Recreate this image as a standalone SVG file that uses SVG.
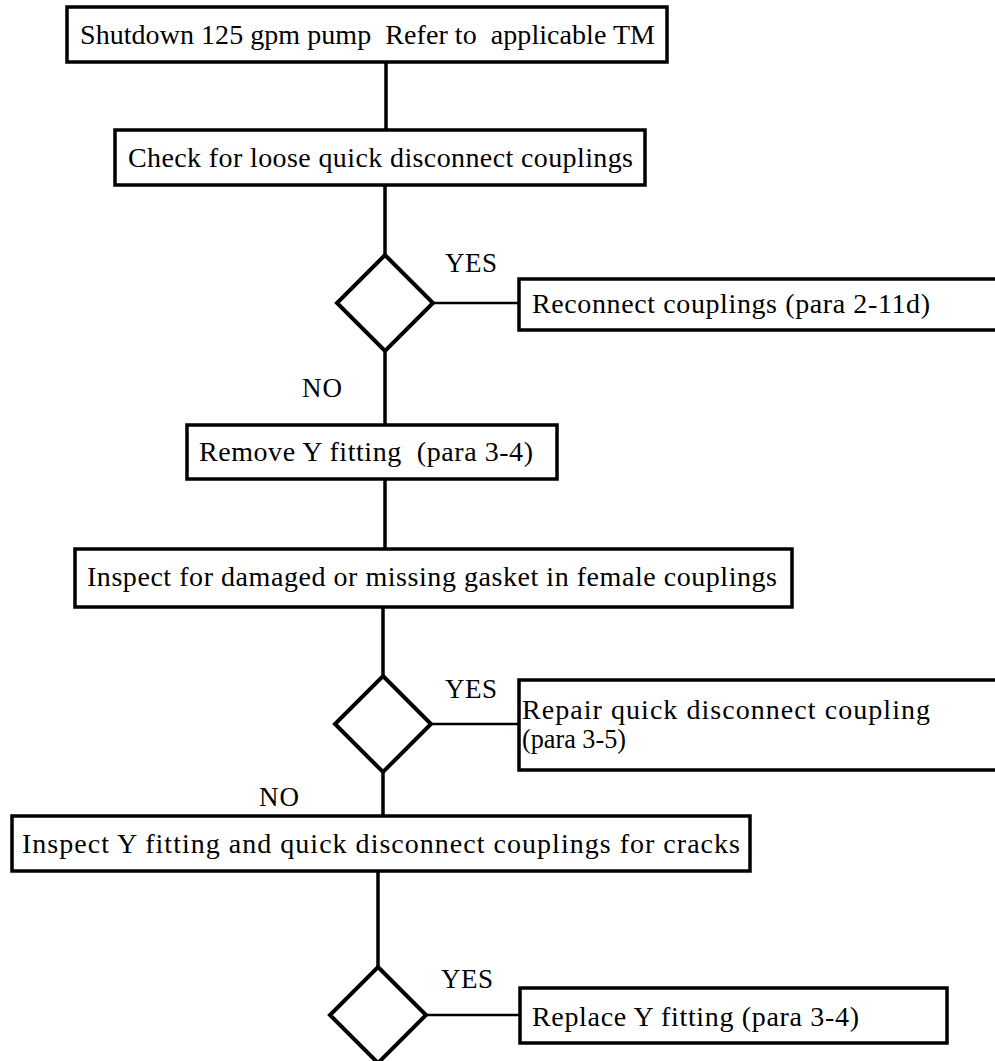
<svg xmlns="http://www.w3.org/2000/svg" width="995" height="1061" viewBox="0 0 995 1061">
<style>
.box{fill:#fff;stroke:#000;stroke-width:3.5}
.dia{fill:#fff;stroke:#000;stroke-width:4;stroke-linejoin:miter}
.con{stroke:#000;stroke-width:3.5;fill:none}
.hcon{stroke:#000;stroke-width:2.5;fill:none}
.t{font-family:"Liberation Serif","Times New Roman",serif;font-size:28px;fill:#000}
.lbl{font-family:"Liberation Serif","Times New Roman",serif;font-size:27px;fill:#000}
</style>
<rect width="995" height="1061" fill="#fff"/>
<g id="connectors">
<line class="con" x1="386" y1="62" x2="386" y2="130"/>
<line class="con" x1="385" y1="185" x2="385" y2="255"/>
<line class="con" x1="385" y1="351" x2="385" y2="425"/>
<line class="con" x1="385" y1="479" x2="385" y2="549"/>
<line class="con" x1="383" y1="607" x2="383" y2="676"/>
<line class="con" x1="383" y1="772" x2="383" y2="816"/>
<line class="con" x1="378" y1="871" x2="378" y2="967"/>
<line class="hcon" x1="433" y1="303" x2="519" y2="303"/>
<line class="hcon" x1="431" y1="724" x2="519" y2="724"/>
<line class="hcon" x1="426" y1="1015" x2="520" y2="1015"/>
</g>
<g id="n1"><rect class="box" x="67" y="7" width="600" height="55"/><text class="t" x="80" y="44" textLength="575" lengthAdjust="spacing" xml:space="preserve">Shutdown 125 gpm pump  Refer to  applicable TM</text></g>
<g id="n2"><rect class="box" x="115" y="130" width="530" height="55"/><text class="t" x="128" y="167" textLength="505" lengthAdjust="spacing">Check for loose quick disconnect couplings</text></g>
<g id="d1"><polygon class="dia" points="385,255 433,303 385,351 337,303"/></g>
<g id="l1"><text class="lbl" x="445" y="272" textLength="52" lengthAdjust="spacing">YES</text></g>
<g id="n3"><rect class="box" x="519" y="279" width="490" height="51"/><text class="t" x="532" y="313" textLength="398" lengthAdjust="spacing">Reconnect couplings (para 2-11d)</text></g>
<g id="l2"><text class="lbl" x="302" y="397" textLength="40" lengthAdjust="spacing">NO</text></g>
<g id="n4"><rect class="box" x="187" y="425" width="370" height="54"/><text class="t" x="199" y="461" textLength="334" lengthAdjust="spacing" xml:space="preserve">Remove Y fitting  (para 3-4)</text></g>
<g id="n5"><rect class="box" x="75" y="549" width="717" height="58"/><text class="t" x="87" y="586" textLength="690" lengthAdjust="spacing">Inspect for damaged or missing gasket in female couplings</text></g>
<g id="d2"><polygon class="dia" points="383,676 431,724 383,772 335,724"/></g>
<g id="l3"><text class="lbl" x="445" y="698" textLength="52" lengthAdjust="spacing">YES</text></g>
<g id="n6"><rect class="box" x="519" y="680" width="490" height="90"/><text class="t" x="522" y="719" textLength="408" lengthAdjust="spacing">Repair quick disconnect coupling</text><text class="t" x="522" y="748" textLength="104" lengthAdjust="spacingAndGlyphs">(para 3-5)</text></g>
<g id="l4"><text class="lbl" x="259" y="806" textLength="40" lengthAdjust="spacing">NO</text></g>
<g id="n7"><rect class="box" x="12" y="816" width="738" height="55"/><text class="t" x="22" y="853" textLength="718" lengthAdjust="spacing">Inspect Y fitting and quick disconnect couplings for cracks</text></g>
<g id="d3"><polygon class="dia" points="378,967 426,1015 378,1063 330,1015"/></g>
<g id="l5"><text class="lbl" x="441" y="988" textLength="52" lengthAdjust="spacing">YES</text></g>
<g id="n8"><rect class="box" x="520" y="988" width="427" height="55"/><text class="t" x="532" y="1026" textLength="327" lengthAdjust="spacing">Replace Y fitting (para 3-4)</text></g>
</svg>
